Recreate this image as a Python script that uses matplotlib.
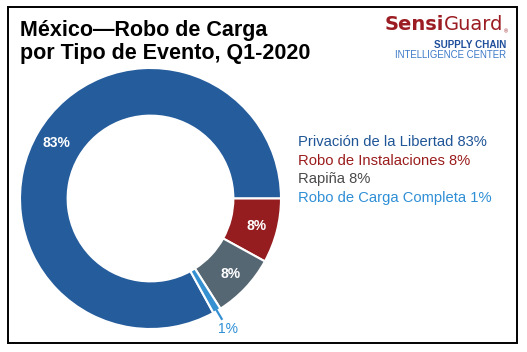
import numpy as np
import matplotlib
matplotlib.use('Agg')
import matplotlib.pyplot as plt
from matplotlib.patches import Rectangle

plt.rcParams['font.family'] = ['Liberation Sans', 'DejaVu Sans']

# datos
categorias = ['Privación de la Libertad', 'Robo de Instalaciones', 'Rapiña', 'Robo de Carga Completa']
valores = [83, 8, 8, 1]
colores = ['#245c9c', '#951d1f', '#566774', '#3590d2']
colores_texto = ['#1f5596', '#9b1c1c', '#4a4a4a', '#2e8fd6']

W, H = 527, 352
fig = plt.figure(figsize=(W / 100, H / 100), dpi=100)

# marco negro
fig.patches.append(Rectangle((8 / W, 1 - 343 / H), 509 / W, 336 / H, transform=fig.transFigure,
                             fill=False, edgecolor='black', linewidth=1.4))

# titulo
fig.text(20 / W, 1 - 36 / H, 'México—Robo de Carga', fontsize=15.5, fontweight='bold', va='baseline')
fig.text(20 / W, 1 - 59 / H, 'por Tipo de Evento, Q1-2020', fontsize=15.5, fontweight='bold', va='baseline')

# logo
guard = fig.text(503 / W, 1 - 34 / H, 'Guard', fontsize=14, color='#9b1c22', ha='right', va='bottom',
                 family='DejaVu Sans')
fig.text(504 / W, 1 - 34 / H, '®', fontsize=4, color='#9b1c22', ha='left', va='bottom')
fig.add_artist(plt.Annotation('Sensi', xy=(0, 0), xycoords=guard, fontsize=14, fontweight='bold',
                              color='#9b1c22', ha='right', va='bottom', family='DejaVu Sans'))
fig.text(506 / W, 1 - 48.5 / H, 'SUPPLY CHAIN', fontsize=7.1, fontweight='bold', color='#1f4e9a',
         ha='right', va='baseline')
fig.text(506 / W, 1 - 57.5 / H, 'INTELLIGENCE CENTER', fontsize=6.9, color='#3b78c8', ha='right', va='baseline')

# dona
ax = fig.add_axes([20 / W, 23 / H, 261 / W, 261 / H])
wedges, textos, pcts = ax.pie(valores, colors=colores, startangle=3.6 * valores[0], counterclock=False,
                              autopct=lambda p: f'{p:.0f}%', pctdistance=0.84,
                              wedgeprops=dict(width=0.365, edgecolor='white', linewidth=1.5),
                              textprops=dict(color='white', fontsize=10, fontweight='bold'))
ax.set_xlim(-1, 1)
ax.set_ylim(-1, 1)
ax.set_aspect('auto')
ax.axis('off')

# etiqueta exterior para la rebanada pequeña
w = wedges[-1]
ang = np.deg2rad((w.theta1 + w.theta2) / 2)
ax.plot([0.98 * np.cos(ang), 1.08 * np.cos(ang)], [0.98 * np.sin(ang), 1.08 * np.sin(ang)],
        color=colores[-1], lw=1.6, clip_on=False, solid_capstyle='butt')
pcts[-1].set_position((1.165 * np.cos(ang), 1.165 * np.sin(ang)))
pcts[-1].set_color(colores_texto[-1])
pcts[-1].set_fontweight('normal')

# leyenda de texto
for i, (cat, v) in enumerate(zip(categorias, valores)):
    fig.text(298 / W, 1 - (146 + 18.7 * i) / H, f'{cat} {v}%', fontsize=10.6,
             color=colores_texto[i], va='baseline')

fig.savefig('out.png', dpi=100)
